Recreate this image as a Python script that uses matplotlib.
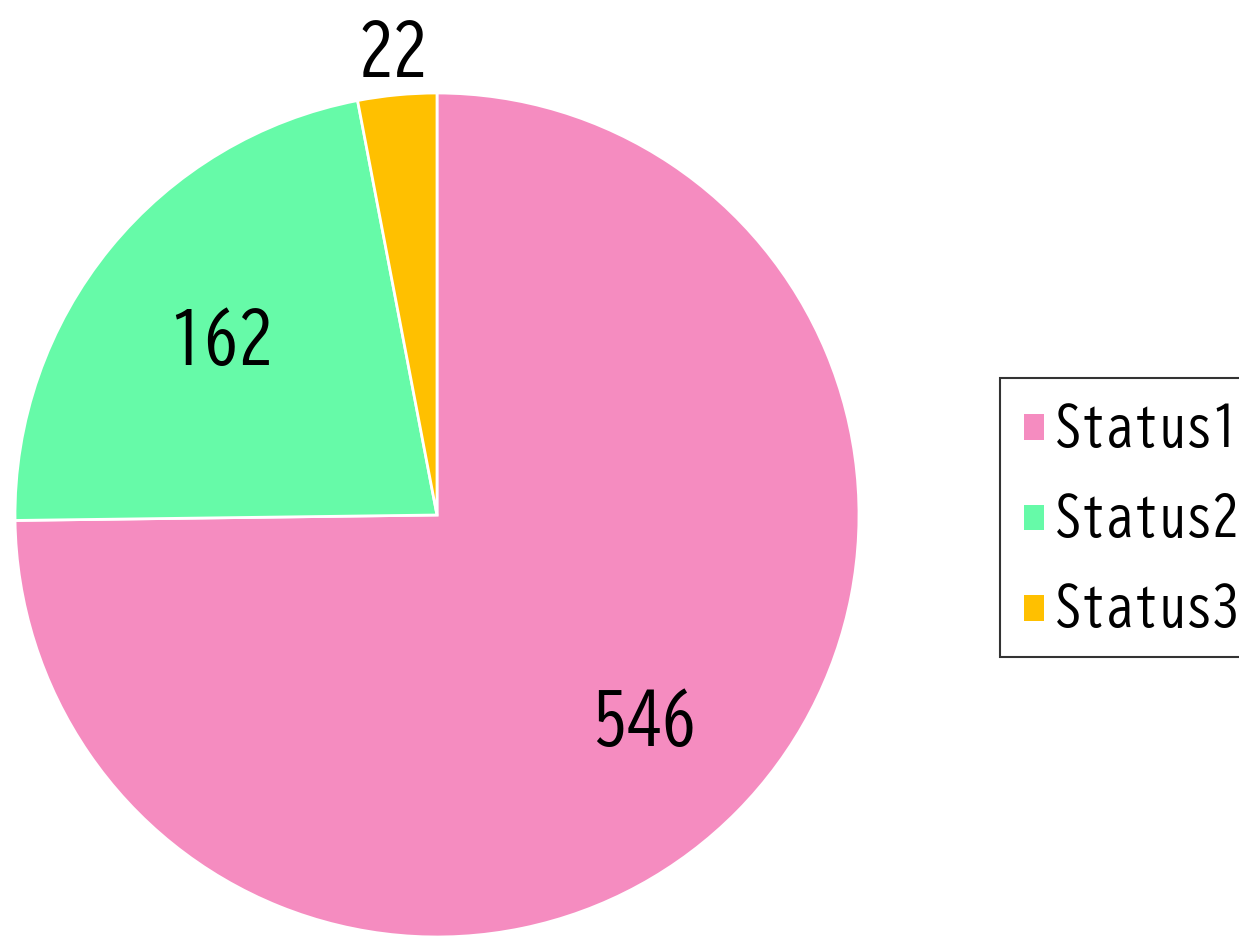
import numpy as np
import matplotlib
matplotlib.use('Agg')
from matplotlib import pyplot as plt

plt.rcParams['font.family'] = ['BIZ UDGothic', 'DejaVu Sans']

labels = ['Status1', 'Status2', 'Status3']
values = [546, 162, 22]
colors = ['#F58CC0', '#66FAA8', '#FFC000']
label_radii = [0.69, 0.66, 1.105]

fig = plt.figure(figsize=(12.39, 9.36), dpi=100)
W, H = 1239, 936
cx, cy, r = 437, 515, 422
ax = fig.add_axes([(cx - r) / W, 1 - (cy + r) / H, 2 * r / W, 2 * r / H])

wedges, _ = ax.pie(
    values,
    colors=colors,
    startangle=90,
    counterclock=False,
    wedgeprops=dict(edgecolor='white', linewidth=2),
)
ax.set_xlim(-1, 1)
ax.set_ylim(-1, 1)
ax.axis('off')

for w, v, rr in zip(wedges, values, label_radii):
    ang = np.deg2rad((w.theta1 + w.theta2) / 2)
    ax.text(rr * np.cos(ang), rr * np.sin(ang), str(v),
            ha='center', va='center', fontsize=50, color='black')

leg = fig.legend(
    wedges, labels,
    loc='upper left',
    bbox_to_anchor=(1000 / W, 1 - 378 / H),
    bbox_transform=fig.transFigure,
    fontsize=38,
    handlelength=0.38,
    handleheight=0.38,
    handletextpad=0.2,
    labelspacing=0.76,
    borderpad=0.46,
    borderaxespad=0,
    fancybox=False,
    frameon=True,
)
leg.get_frame().set_edgecolor('black')
leg.get_frame().set_linewidth(1.5)
for h in leg.legend_handles:
    h.set_edgecolor('none')

fig.savefig('out.png', dpi=100)
